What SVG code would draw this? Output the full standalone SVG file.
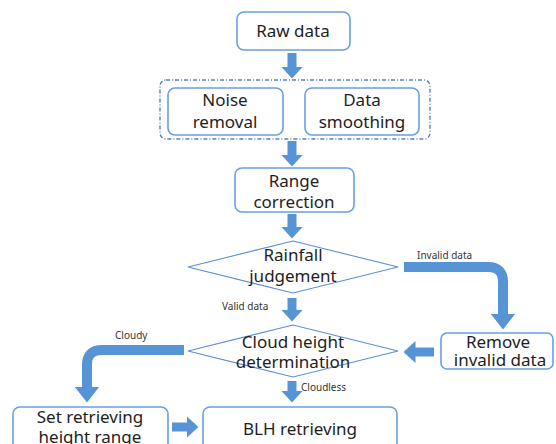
<svg xmlns="http://www.w3.org/2000/svg" width="556" height="444" viewBox="0 0 556 444">
<style>
.box{fill:#fff;stroke:#6a9fe0;stroke-width:1.6}
.dia{fill:#fff;stroke:#5b8ed8;stroke-width:1.1}
.grp{fill:none;stroke:#5a7fc4;stroke-width:1.4;stroke-dasharray:4 2 1 2}
.t{font-family:"Noto Sans","Open Sans","DejaVu Sans",sans-serif;font-size:17px;fill:#1e1e1e;text-anchor:middle}
.s{font-family:"Noto Sans","Open Sans","DejaVu Sans",sans-serif;font-size:10px;fill:#333}
.a{fill:none;stroke:#5694d6;stroke-width:9;marker-end:url(#h)}
.b{fill:none;stroke:#5694d6;stroke-width:10;marker-end:url(#hb)}
</style>
<defs>
<marker id="h" markerUnits="userSpaceOnUse" viewBox="0 0 12 22" markerWidth="12" markerHeight="22" refX="0.5" refY="11" orient="auto"><path d="M0,0L12,11L0,22z" fill="#5694d6"/></marker>
<marker id="hb" markerUnits="userSpaceOnUse" viewBox="0 0 16 25" markerWidth="16" markerHeight="25" refX="0.5" refY="12.5" orient="auto"><path d="M0,0L16,12.5L0,25z" fill="#5694d6"/></marker>
</defs>
<g id="connectors">
<path class="a" d="M292,53V67"/>
<path class="a" d="M292,141V155"/>
<path class="a" d="M292,214V227"/>
<path class="a" d="M292,298V310"/>
<path class="a" d="M292,381V391"/>
<path class="a" d="M434,352H415"/>
<path class="a" d="M172,427H187"/>
<path class="b" d="M404,267H488Q503,267 503,282V314"/>
<path class="b" d="M184,350H102Q87,350 87,365V387"/>
<text class="s" x="417" y="259">Invalid data</text>
<text class="s" x="222" y="310">Valid data</text>
<text class="s" x="115" y="339">Cloudy</text>
<text class="s" x="301" y="391">Cloudless</text>
</g>
<g id="raw"><rect class="box" x="237" y="12" width="113" height="38" rx="7"/><text class="t" x="293" y="37">Raw data</text></g>
<g id="group"><rect class="grp" x="160" y="80" width="270" height="59" rx="6"/></g>
<g id="noise"><rect class="box" x="168" y="88" width="115" height="47" rx="7"/><text class="t" x="225" y="106">Noise</text><text class="t" x="225" y="128">removal</text></g>
<g id="smooth"><rect class="box" x="305" y="88" width="114" height="47" rx="7"/><text class="t" x="362" y="106">Data</text><text class="t" x="362" y="128">smoothing</text></g>
<g id="range"><rect class="box" x="235" y="168" width="119" height="44" rx="7"/><text class="t" x="294" y="187">Range</text><text class="t" x="294" y="208">correction</text></g>
<g id="rainfall"><polygon class="dia" points="188,267 293,241 398,267 293,293"/><text class="t" x="293" y="261">Rainfall</text><text class="t" x="293" y="282">judgement</text></g>
<g id="cloud"><polygon class="dia" points="188,351 293,325 398,351 293,377"/><text class="t" x="293" y="348">Cloud height</text><text class="t" x="293" y="368">determination</text></g>
<g id="remove"><rect class="box" x="441" y="333" width="112" height="36" rx="6"/><text class="t" x="498" y="348">Remove</text><text class="t" x="500" y="366">invalid data</text></g>
<g id="setrange"><rect class="box" x="13" y="407" width="155" height="50" rx="7"/><text class="t" x="90" y="423">Set retrieving</text><text class="t" x="90" y="443">height range</text></g>
<g id="blh"><rect class="box" x="203" y="407" width="194" height="50" rx="7"/><text class="t" x="300" y="435">BLH retrieving</text></g>
</svg>
